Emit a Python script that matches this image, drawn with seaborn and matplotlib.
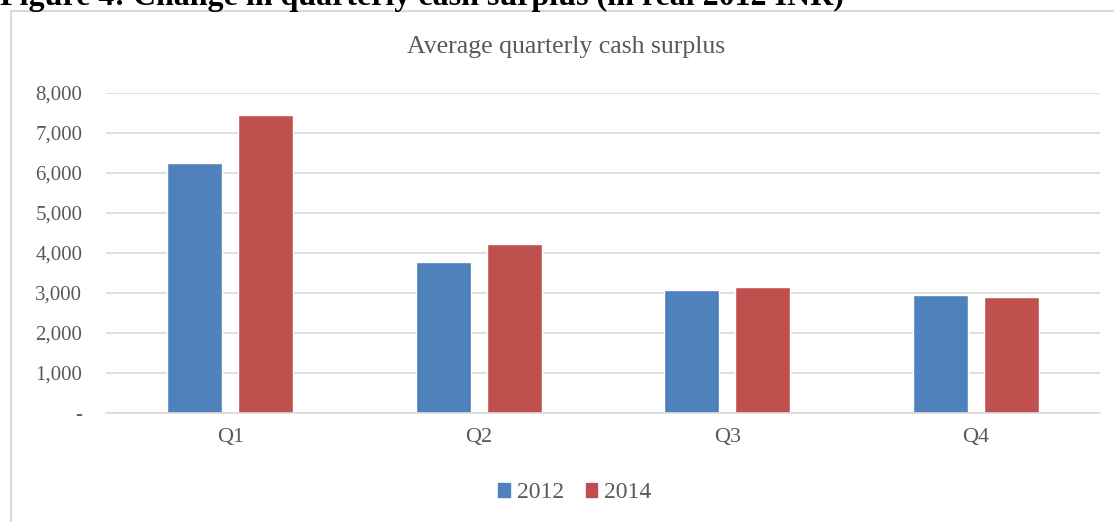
import matplotlib
matplotlib.use("Agg")
import matplotlib.pyplot as plt
import matplotlib.patches as mpatches
from matplotlib.ticker import FuncFormatter
import seaborn as sns
import pandas as pd

quarters = ["Q1", "Q2", "Q3", "Q4"]
years = ["2012", "2014"]
values_2012 = [6245, 3785, 3075, 2940]
values_2014 = [7450, 4215, 3155, 2905]
yticks = [0, 1000, 2000, 3000, 4000, 5000, 6000, 7000, 8000]

df = pd.DataFrame({
    "quarter": quarters * 2,
    "year": [years[0]] * 4 + [years[1]] * 4,
    "value": values_2012 + values_2014,
})

sns.set_theme(style="white")
plt.rcParams["font.family"] = ["Liberation Serif", "DejaVu Serif"]

W, H = 1114, 522
fig = plt.figure(figsize=(W / 100, H / 100), dpi=100)
ax = fig.add_axes([106 / W, 1 - 413 / H, (1100 - 106) / W, (413 - 93) / H])

sns.barplot(data=df, x="quarter", y="value", hue="year", order=quarters,
            hue_order=years, palette=["#4F81BD", "#C0504D"], width=0.57,
            gap=0.22, ax=ax, legend=False, saturation=1, errorbar=None)

ax.set_ylim(0, 8000)
ax.set_yticks(yticks)
ax.yaxis.set_major_formatter(FuncFormatter(lambda v, p: "-" if v == 0 else f"{int(v):,}"))
ax.grid(axis="y", color="#d9d9d9", linewidth=1.2)
ax.set_axisbelow(True)
for s in ["left", "right", "top"]:
    ax.spines[s].set_visible(False)
ax.spines["bottom"].set_color("#d9d9d9")
ax.spines["bottom"].set_linewidth(1.2)
ax.tick_params(axis="both", length=0, labelcolor="#595959")
ax.tick_params(axis="y", pad=17, labelsize=15)
ax.tick_params(axis="x", pad=11, labelsize=16)
ax.set_xlabel("")
ax.set_ylabel("")

fig.text(566 / W, 1 - 47 / H, "Average quarterly cash surplus", ha="center",
         va="center", fontsize=18.5, color="#595959")

handles = [mpatches.Patch(color="#4F81BD", label=years[0]),
           mpatches.Patch(color="#C0504D", label=years[1])]
fig.legend(handles=handles, loc="center", bbox_to_anchor=(575 / W, 1 - 493 / H),
           ncol=2, frameon=False, fontsize=17, handlelength=0.5, handleheight=0.5,
           handletextpad=0.3, columnspacing=0.9, labelcolor="#595959")

# chart frame
fig.add_artist(mpatches.Rectangle((10.5 / W, -0.1), 1.2, 1 - 10.5 / H + 0.1,
                                  transform=fig.transFigure, fill=False,
                                  edgecolor="#d9d9d9", linewidth=1.5))

# cut-off figure caption
fig.text(0, 1 - 5 / H, "Figure 4: Change in quarterly cash surplus (in real 2012 INR)",
         ha="left", va="baseline", fontsize=23, fontweight="bold", color="black")

fig.savefig("out.png", dpi=100, facecolor="white")
